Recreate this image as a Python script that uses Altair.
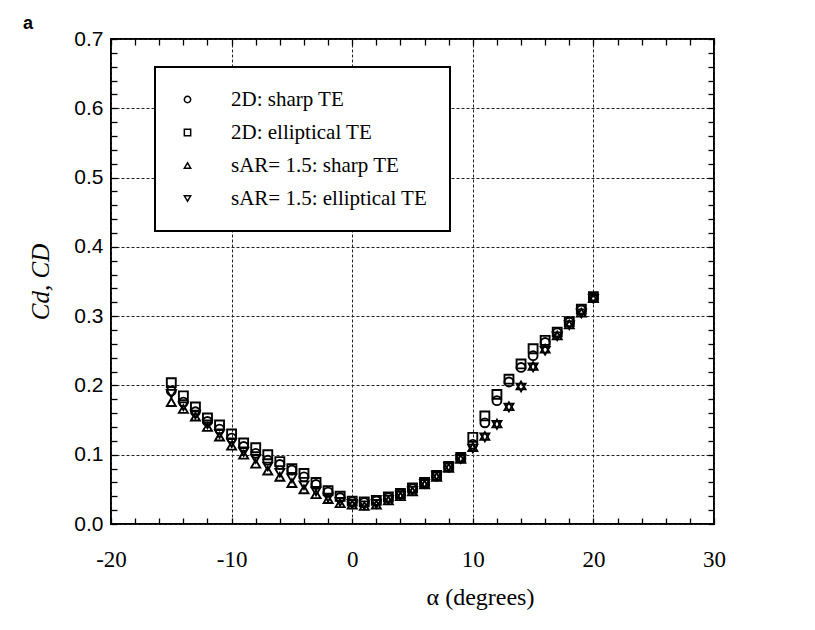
import altair as alt
import pandas as pd

# ---------------- data ----------------
alpha = list(range(-15, 21))

cd_2d_sharp = [0.192, 0.176, 0.162, 0.148, 0.137, 0.124, 0.112, 0.102, 0.092, 0.086,
               0.078, 0.068, 0.057, 0.046, 0.038, 0.032, 0.031, 0.033, 0.038, 0.043,
               0.051, 0.059, 0.069, 0.082, 0.095, 0.115, 0.146, 0.178, 0.205, 0.226,
               0.243, 0.262, 0.276, 0.291, 0.309, 0.327]
cd_2d_ellip = [0.204, 0.185, 0.169, 0.153, 0.143, 0.130, 0.117, 0.110, 0.100, 0.090,
               0.080, 0.073, 0.060, 0.048, 0.040, 0.033, 0.032, 0.034, 0.039, 0.044,
               0.052, 0.060, 0.070, 0.083, 0.096, 0.125, 0.156, 0.187, 0.209, 0.231,
               0.253, 0.265, 0.277, 0.292, 0.310, 0.328]
cd_sar_sharp = [0.176, 0.166, 0.155, 0.140, 0.126, 0.113, 0.100, 0.087, 0.077, 0.068,
                0.059, 0.050, 0.043, 0.036, 0.030, 0.028, 0.026, 0.028, 0.034, 0.040,
                0.047, 0.057, 0.068, 0.081, 0.094, 0.111, 0.127, 0.145, 0.170, 0.200,
                0.228, 0.253, 0.272, 0.288, 0.305, 0.326]
cd_sar_ellip = [0.188, 0.170, 0.158, 0.144, 0.130, 0.117, 0.104, 0.094, 0.083, 0.074,
                0.066, 0.056, 0.047, 0.038, 0.032, 0.029, 0.027, 0.029, 0.035, 0.041,
                0.048, 0.058, 0.069, 0.082, 0.094, 0.109, 0.125, 0.143, 0.168, 0.197,
                0.226, 0.250, 0.271, 0.287, 0.304, 0.325]

series_names = ["2D: sharp TE", "2D: elliptical TE",
                "sAR= 1.5: sharp TE", "sAR= 1.5: elliptical TE"]
series_shapes = ["circle", "square", "triangle-up", "triangle-down"]

x_ticks = list(range(-20, 31, 2))
y_ticks = [round(i * 0.02, 2) for i in range(36)]

rows = []
for name, vals in zip(series_names, [cd_2d_sharp, cd_2d_ellip, cd_sar_sharp, cd_sar_ellip]):
    for a, v in zip(alpha, vals):
        rows.append({"alpha": a, "cd": v, "series": name})
df = pd.DataFrame(rows)

# ---------------- chart ----------------
xscale = alt.Scale(domain=[-20, 30], nice=False, zero=False)
yscale = alt.Scale(domain=[0, 0.7], nice=False, zero=False)

x_major = "datum.value % 10 == 0"
y_major = "abs(datum.value * 10 - round(datum.value * 10)) < 0.000001"

TICK = 6

x_bottom = alt.Axis(
    values=x_ticks, orient="bottom", offset=-TICK, domain=False,
    ticks=True, tickSize=TICK, tickColor="black", tickWidth=1.3,
    labelExpr=f"{x_major} ? '' + datum.value : ''",
    labelFont="Liberation Serif", labelFontSize=23, labelColor="black",
    labelPadding=24, labelFlush=False, labelOverlap=False,
    grid=True, gridColor="#222222", gridDash=[3, 2], gridWidth=1,
    gridOpacity={"condition": {"test": x_major, "value": 1}, "value": 0},
    title="α (degrees)", titleFont="Liberation Serif", titleFontSize=24,
    titleFontWeight="normal", titleColor="black", titlePadding=14, titleX=369,
)
y_left = alt.Axis(
    values=y_ticks, orient="left", offset=-TICK, domain=False,
    ticks=True, tickSize=TICK, tickColor="black", tickWidth=1.3,
    labelExpr=f"{y_major} ? format(datum.value, '.1f') : ''",
    labelFont="Liberation Sans", labelFontSize=21, labelColor="black",
    labelPadding=8, labelFlush=False, labelOverlap=False,
    grid=True, gridColor="#222222", gridDash=[3, 2], gridWidth=1,
    gridOpacity={"condition": {"test": y_major, "value": 1}, "value": 0},
    title="Cd, CD", titleFont="Liberation Serif", titleFontSize=25,
    titleFontStyle="italic", titleFontWeight="normal", titleColor="black",
    titlePadding=20,
)
x_top = alt.Axis(values=x_ticks, orient="top", offset=-TICK, domain=False,
                 ticks=True, tickSize=TICK, tickColor="black", tickWidth=1.3,
                 labels=False, grid=False, title=None)
y_right = alt.Axis(values=y_ticks, orient="right", offset=-TICK, domain=False,
                   ticks=True, tickSize=TICK, tickColor="black", tickWidth=1.3,
                   labels=False, grid=False, title=None)

points = alt.Chart(df).mark_point(
    filled=False, color="black", strokeWidth=1.9, size=80, opacity=1
).encode(
    x=alt.X("alpha:Q", scale=xscale, axis=x_bottom),
    y=alt.Y("cd:Q", scale=yscale, axis=y_left),
    shape=alt.Shape(
        "series:N",
        scale=alt.Scale(domain=series_names, range=series_shapes),
        sort=series_names,
        legend=alt.Legend(
            title=None, orient="none", legendX=44, legendY=28,
            padding=22, labelOffset=33, rowPadding=11, labelLimit=0,
            symbolSize=40, symbolStrokeWidth=1.5, symbolStrokeColor="black",
            symbolFillColor="transparent",
            labelFont="Liberation Serif", labelFontSize=21, labelColor="black",
            strokeColor="black", fillColor="white",
        ),
    ),
)

mirror = alt.Chart(df).mark_point(opacity=0).encode(
    x=alt.X("alpha:Q", scale=xscale, axis=x_top),
    y=alt.Y("cd:Q", scale=yscale, axis=y_right),
)

chart = alt.layer(points, mirror).resolve_axis(
    x="independent", y="independent"
).properties(
    width=603, height=485,
    padding={"left": 111, "top": 39, "right": 101, "bottom": 106},
    autosize=alt.AutoSizeParams(type="none"),
    title=alt.TitleParams(text="a", anchor="start", frame="group", dx=-88,
                          dy=5, offset=0, fontSize=18, fontWeight="bold",
                          font="Liberation Sans", color="black"),
    background="white",
).configure_view(
    stroke="black", strokeWidth=2
).configure_legend(
    strokeWidth=2
)

chart.save("out.html", embed_options={"renderer": "svg", "actions": False})
